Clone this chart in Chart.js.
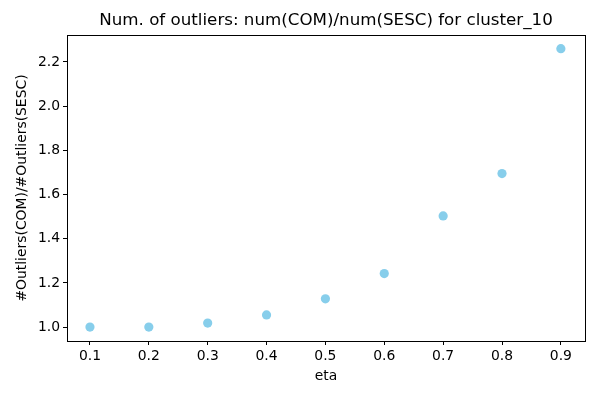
<!DOCTYPE html>
<html>
<head>
<meta charset="utf-8">
<script src="https://cdn.jsdelivr.net/npm/chart.js@4"></script>
<style>
  html, body { margin: 0; padding: 0; background: #fff; }
  #wrap { width: 600px; height: 400px; }
</style>
</head>
<body>
<div id="wrap"><canvas id="chart" width="600" height="400"></canvas></div>
<script>
// data
var etas = [0.1, 0.2, 0.3, 0.4, 0.5, 0.6, 0.7, 0.8, 0.9];
var ratios = [1.0, 1.0, 1.018, 1.055, 1.128, 1.242, 1.503, 1.695, 2.26];
var xTicks = [0.1, 0.2, 0.3, 0.4, 0.5, 0.6, 0.7, 0.8, 0.9];
var yTicks = [1.0, 1.2, 1.4, 1.6, 1.8, 2.0, 2.2];
var titleText = "Num. of outliers: num(COM)/num(SESC) for cluster_10";

var FONT = "'DejaVu Sans', sans-serif";
Chart.defaults.font.family = FONT;
Chart.defaults.color = "#000";

var framePlugin = {
  id: "frame",
  afterDraw: function(chart) {
    var a = chart.chartArea, c = chart.ctx;
    c.save();
    c.strokeStyle = "#000";
    c.lineWidth = 1;
    c.strokeRect(Math.round(a.left) + 0.5, Math.round(a.top) + 0.5,
                 Math.round(a.right - a.left), Math.round(a.bottom - a.top));
    c.font = "16.7px " + FONT;
    c.fillStyle = "#000";
    c.textAlign = "center";
    c.textBaseline = "middle";
    c.fillText(titleText, (a.left + a.right) / 2, 21);
    c.restore();
  }
};

function points() {
  return etas.map(function(e, i) { return {x: e, y: ratios[i]}; });
}

var ctx = document.getElementById("chart");
new Chart(ctx, {
  type: "scatter",
  data: {
    datasets: [{
      data: points(),
      backgroundColor: "#87CEEB",
      borderWidth: 0,
      pointRadius: 4.6,
      pointHoverRadius: 4.6
    }]
  },
  options: {
    responsive: false,
    animation: false,
    layout: { padding: { top: 35, right: 15, left: 0, bottom: 0 } },
    plugins: { legend: { display: false }, tooltip: { enabled: false }, title: { display: false } },
    scales: {
      x: {
        type: "linear",
        min: 0.061, max: 0.941,
        afterBuildTicks: function(s) { s.ticks = xTicks.map(function(v) { return {value: v}; }); },
        afterFit: function(s) { s.height = 59; },
        ticks: { font: { size: 13.9 }, padding: 3, maxRotation: 0,
                 callback: function(v) { return v.toFixed(1); } },
        grid: { drawOnChartArea: false, drawTicks: true, tickLength: 4, tickColor: "#000" },
        border: { display: false },
        title: { display: true, text: "eta", font: { size: 13.9 }, padding: { top: 4, bottom: 15 } }
      },
      y: {
        type: "linear",
        min: 0.937, max: 2.322,
        afterBuildTicks: function(s) { s.ticks = yTicks.map(function(v) { return {value: v}; }); },
        afterFit: function(s) { s.width = 67; },
        ticks: { font: { size: 13.9 }, padding: 3,
                 callback: function(v) { return v.toFixed(1); } },
        grid: { drawOnChartArea: false, drawTicks: true, tickLength: 4, tickColor: "#000" },
        border: { display: false },
        title: { display: true, text: "#Outliers(COM)/#Outliers(SESC)", font: { size: 13.9 }, padding: { top: 14, bottom: 4 } }
      }
    }
  },
  plugins: [framePlugin]
});
</script>
</body>
</html>
